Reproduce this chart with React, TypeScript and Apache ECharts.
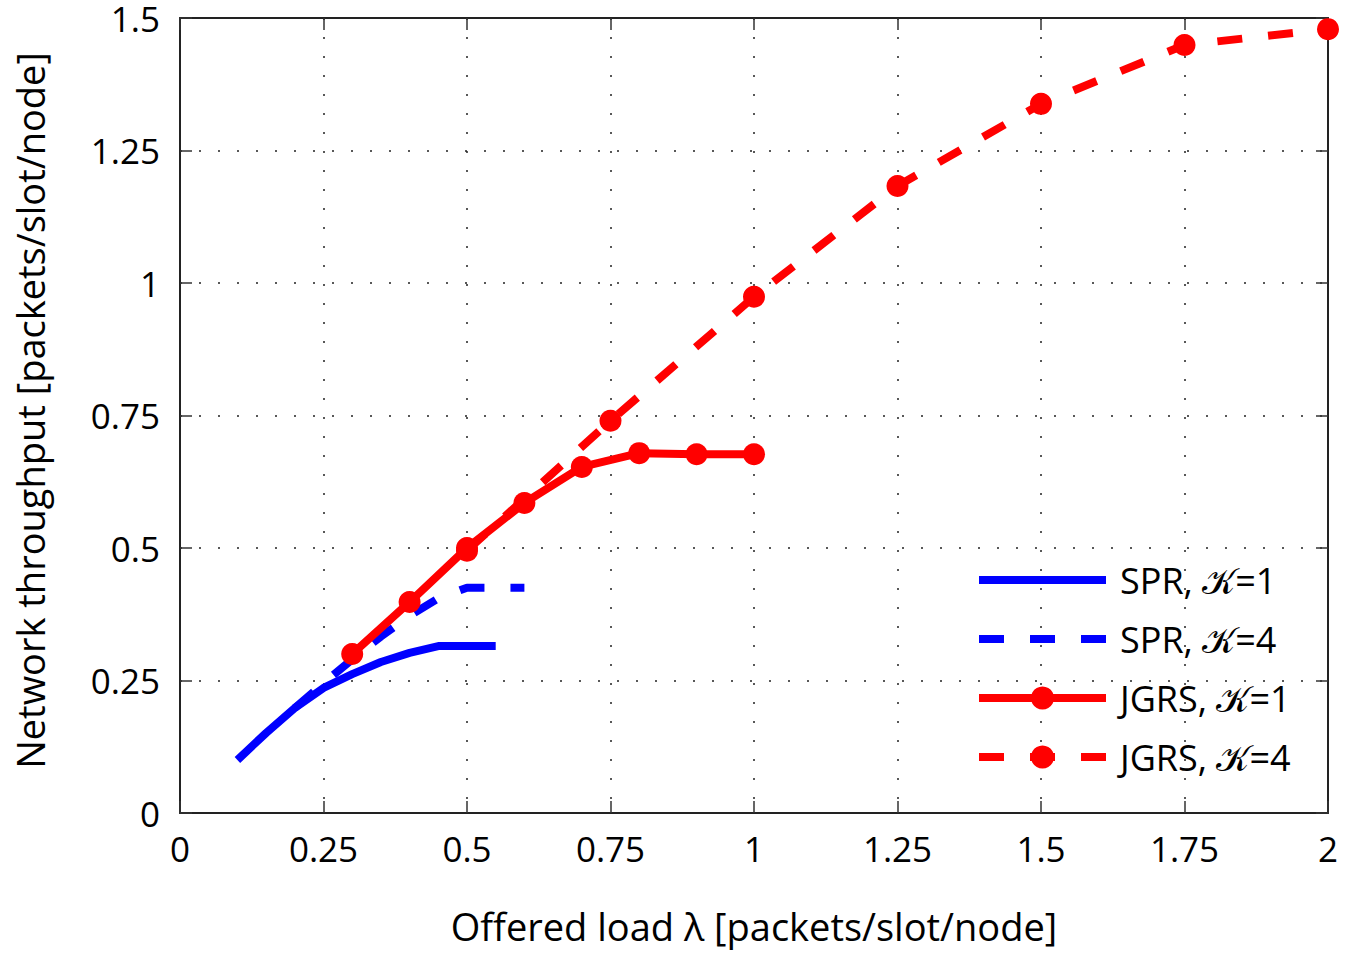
import React, { useEffect, useRef } from "react";
import * as echarts from "echarts";

const xTicks = [0, 0.25, 0.5, 0.75, 1, 1.25, 1.5, 1.75, 2];
const yTicks = [0, 0.25, 0.5, 0.75, 1, 1.25, 1.5];

const sprK1X = [0.1, 0.15, 0.2, 0.25, 0.3, 0.35, 0.4, 0.45, 0.5, 0.55];
const sprK1Y = [0.1, 0.151, 0.198, 0.236, 0.262, 0.285, 0.302, 0.315, 0.315, 0.315];

const sprK4X = [0.2, 0.25, 0.3, 0.35, 0.4, 0.45, 0.5, 0.55, 0.6];
const sprK4Y = [0.198, 0.245, 0.29, 0.333, 0.372, 0.405, 0.425, 0.425, 0.425];

const jgrsK1X = [0.3, 0.4, 0.5, 0.6, 0.7, 0.8, 0.9, 1.0];
const jgrsK1Y = [0.3, 0.398, 0.5, 0.585, 0.653, 0.679, 0.677, 0.677];

const jgrsK4X = [0.5, 0.75, 1, 1.25, 1.5, 1.75, 2];
const jgrsK4Y = [0.495, 0.74, 0.974, 1.183, 1.338, 1.449, 1.479];

const names = ["SPR, 𝒦=1", "SPR, 𝒦=4", "JGRS, 𝒦=1", "JGRS, 𝒦=4"];

const FONT = "'Open Sans', 'DejaVu Sans', sans-serif";

function pairs(xs: number[], ys: number[]) {
  return xs.map((x, i) => [x, ys[i]]);
}

export default function App() {
  const ref = useRef<HTMLDivElement>(null);
  useEffect(() => {
    if (!ref.current) return;
    const chart = echarts.init(ref.current, undefined, { renderer: "svg" });
    const axisLine = { show: true, onZero: false, lineStyle: { color: "#222", width: 2 } };
    const axisTick = { show: true, inside: true, length: 12, lineStyle: { color: "#333", width: 1.5 } };
    const splitLine = { show: true, lineStyle: { color: "#222", width: 1.5, type: [2, 17] } };
    const xMin = xTicks[0], xMax = xTicks[xTicks.length - 1];
    const yMin = yTicks[0], yMax = yTicks[yTicks.length - 1];
    const dash = [25, 26];
    const LW = 8;
    chart.setOption({
      animation: false,
      backgroundColor: "#fff",
      textStyle: { fontFamily: FONT },
      grid: { left: 180, right: 20, top: 18, bottom: 142, containLabel: false },
      legend: {
        orient: "vertical",
        left: 975,
        top: 560,
        padding: 0,
        itemWidth: 127,
        itemHeight: 29,
        itemGap: 19,
        selectedMode: false,
        lineStyle: { width: LW },
        data: [
          { name: names[0], itemStyle: { opacity: 0 } },
          { name: names[1], itemStyle: { opacity: 0 } },
          { name: names[2] },
          { name: names[3] },
        ],
        textStyle: { fontFamily: FONT, fontSize: 36, color: "#000", lineHeight: 40, padding: [0, 0, 0, 9] },
      },
      xAxis: [
        {
          type: "value",
          min: xMin,
          max: xMax,
          interval: 0.25,
          position: "bottom",
          name: "Offered load λ [packets/slot/node]",
          nameLocation: "middle",
          nameGap: 94,
          nameTextStyle: { fontFamily: FONT, fontSize: 38, color: "#000" },
          axisLine,
          axisTick,
          splitLine,
          axisLabel: { fontFamily: FONT, fontSize: 35, color: "#000", margin: 18 },
        },
        {
          type: "value",
          min: xMin,
          max: xMax,
          interval: 0.25,
          position: "top",
          axisLine,
          axisTick,
          splitLine: { show: false },
          axisLabel: { show: false },
        },
      ],
      yAxis: [
        {
          type: "value",
          min: yMin,
          max: yMax,
          interval: 0.25,
          position: "left",
          name: "Network throughput [packets/slot/node]",
          nameLocation: "middle",
          nameGap: 131,
          nameTextStyle: { fontFamily: FONT, fontSize: 38, color: "#000", padding: [0, 0, 0, 10] },
          axisLine,
          axisTick,
          splitLine,
          axisLabel: { fontFamily: FONT, fontSize: 35, color: "#000", margin: 20, lineHeight: 34 },
        },
        {
          type: "value",
          min: yMin,
          max: yMax,
          interval: 0.25,
          position: "right",
          axisLine,
          axisTick,
          splitLine: { show: false },
          axisLabel: { show: false },
        },
      ],
      series: [
        {
          name: names[0],
          type: "line",
          data: pairs(sprK1X, sprK1Y),
          symbol: "none",
          lineStyle: { color: "#0000ff", width: LW },
          itemStyle: { color: "#0000ff" },
        },
        {
          name: names[1],
          type: "line",
          data: pairs(sprK4X, sprK4Y),
          symbol: "none",
          lineStyle: { color: "#0000ff", width: LW, type: dash },
          itemStyle: { color: "#0000ff" },
        },
        {
          name: names[2],
          type: "line",
          data: pairs(jgrsK1X, jgrsK1Y),
          symbol: "circle",
          symbolSize: 22,
          lineStyle: { color: "#ff0000", width: LW },
          itemStyle: { color: "#ff0000" },
        },
        {
          name: names[3],
          type: "line",
          data: pairs(jgrsK4X, jgrsK4Y),
          symbol: "circle",
          symbolSize: 22,
          lineStyle: { color: "#ff0000", width: LW, type: dash },
          itemStyle: { color: "#ff0000" },
        },
      ],
    });
    return () => chart.dispose();
  }, []);
  return <div ref={ref} style={{ width: 1348, height: 955, position: "absolute", left: 0, top: 0 }} />;
}
